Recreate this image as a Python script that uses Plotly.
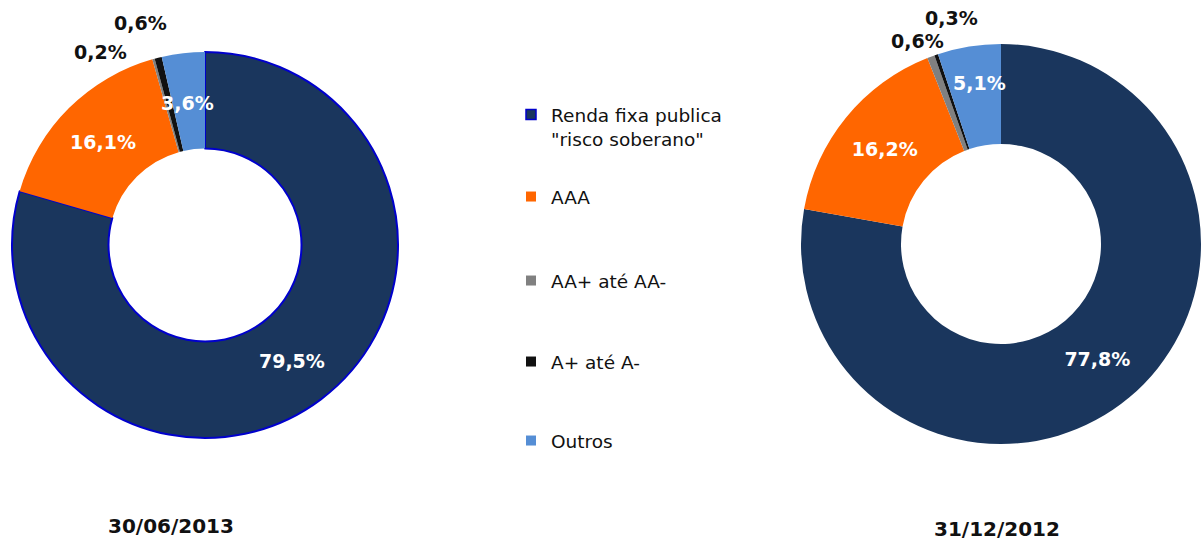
import plotly.graph_objects as go

categories = ['Renda fixa publica<br>"risco soberano"', "AAA", "AA+ até AA-", "A+ até A-", "Outros"]
values_2013 = [79.5, 16.1, 0.2, 0.6, 3.6]
values_2012 = [77.8, 16.2, 0.6, 0.3, 5.1]
labels_2013 = ["79,5%", "16,1%", "0,2%", "0,6%", "3,6%"]
labels_2012 = ["77,8%", "16,2%", "0,6%", "0,3%", "5,1%"]
titles = ["30/06/2013", "31/12/2012"]

colors = ["#1a365d", "#ff6600", "#808080", "#111111", "#558ed5"]
W, H = 1202, 540
OFF = 0  # body margin removed below


def px_x(v):
    return (v - OFF) / W


def px_y(v):
    return 1 - (v - OFF) / H


fig = go.Figure()


def pie_text(labels):
    # big slices labeled inside by the library; small ones annotated separately
    return [labels[0], labels[1], "", "", ""]


fig.add_trace(go.Pie(
    values=values_2013, labels=categories, text=pie_text(labels_2013),
    textinfo="text", textposition="inside", insidetextorientation="horizontal",
    sort=False, direction="clockwise", rotation=0, hole=0.5,
    marker=dict(colors=colors, line=dict(color=["#0000cc", "rgba(0,0,0,0)", "rgba(0,0,0,0)", "rgba(0,0,0,0)", "rgba(0,0,0,0)"],
                                         width=[2, 0, 0, 0, 0])),
    textfont=dict(family="DejaVu Sans", size=19, color="white", weight="bold"),
    domain=dict(x=[px_x(12), px_x(398)], y=[px_y(438), px_y(52)]),
    showlegend=False, hoverinfo="skip",
))
fig.add_trace(go.Pie(
    values=values_2012, labels=categories, text=pie_text(labels_2012),
    textinfo="text", textposition="inside", insidetextorientation="horizontal",
    sort=False, direction="clockwise", rotation=0, hole=0.5,
    marker=dict(colors=colors, line=dict(width=0)),
    textfont=dict(family="DejaVu Sans", size=19, color="white", weight="bold"),
    domain=dict(x=[px_x(801), px_x(1201)], y=[px_y(444), px_y(44)]),
    showlegend=False, hoverinfo="skip",
))

# legend via dummy square markers, one legend per item for spacing
legend_y = [127, 197, 281, 362, 441]
line_cols = ["#0000cc", colors[1], colors[2], colors[3], colors[4]]
layout_legends = {}
for i, (cat, col) in enumerate(zip(categories, colors)):
    lname = "legend" if i == 0 else f"legend{i + 1}"
    fig.add_trace(go.Scatter(
        x=[None], y=[None], mode="markers", name=cat,
        marker=dict(symbol="square", size=10, color=col,
                    line=dict(color=line_cols[i], width=1.5 if i == 0 else 0)),
        legend=lname, showlegend=True,
    ))
    layout_legends[lname] = dict(
        x=px_x(511), xanchor="left", y=px_y(legend_y[i]), yanchor="middle",
        font=dict(family="DejaVu Sans", size=18.5, color="#111111"),
        bgcolor="rgba(0,0,0,0)", valign="top",
    )

annotations = []
small_2013 = [(labels_2013[2], 100, 52, "#111111"), (labels_2013[3], 140, 23, "#111111"), (labels_2013[4], 187, 103, "white")]
small_2012 = [(labels_2012[2], 917, 41, "#111111"), (labels_2012[3], 951, 18, "#111111"), (labels_2012[4], 979, 83, "white")]
for txt, px, py, c in small_2013 + small_2012:
    annotations.append(dict(text=txt, x=px_x(px), y=px_y(py), xref="paper", yref="paper",
                            showarrow=False, xanchor="center", yanchor="middle",
                            font=dict(family="DejaVu Sans", size=19, color=c, weight="bold")))
for txt, px, py in [(titles[0], 171, 526), (titles[1], 997, 529)]:
    annotations.append(dict(text=txt, x=px_x(px), y=px_y(py), xref="paper", yref="paper",
                            showarrow=False, xanchor="center", yanchor="middle",
                            font=dict(family="DejaVu Sans", size=20, color="#111111", weight="bold")))

fig.update_layout(
    width=W, height=H, margin=dict(l=0, r=0, t=0, b=0),
    paper_bgcolor="white", plot_bgcolor="white",
    xaxis=dict(visible=False), yaxis=dict(visible=False),
    annotations=annotations,
    **layout_legends,
)

fig.write_html("out.html", config={"displayModeBar": False},
               post_script="document.body.style.margin='0';document.body.style.overflow='hidden';")
